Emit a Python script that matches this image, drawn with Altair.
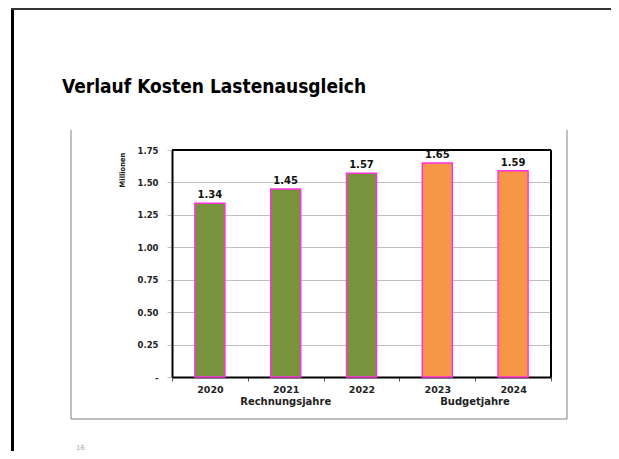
import altair as alt
import pandas as pd

years = ["2020", "2021", "2022", "2023", "2024"]
values = [1.34, 1.45, 1.57, 1.65, 1.59]
kinds = ["Rechnung", "Rechnung", "Rechnung", "Budget", "Budget"]
y_ticks = [0, 0.25, 0.5, 0.75, 1.0, 1.25, 1.5, 1.75]

df = pd.DataFrame({"year": years, "value": values, "kind": kinds})
df["label"] = [f"{v:.2f}" for v in values]

W, H = 379, 227
FONT = "DejaVu Sans"

x_enc = alt.X("year:N", sort=years,
              scale=alt.Scale(paddingInner=0, paddingOuter=0),
              axis=alt.Axis(title=None, labelAngle=0, labelFont=FONT, labelFontWeight="bold",
                            labelFontSize=9.5, labelColor="#222", tickBand="extent",
                            tickSize=4, tickColor="#555", labelPadding=3,
                            domainColor="#000", domainWidth=2, grid=False))
y_enc = alt.Y("value:Q", scale=alt.Scale(domain=[0, 1.75], nice=False),
              axis=alt.Axis(title=None, values=y_ticks, labelOverlap=False,
                            labelExpr="datum.value == 0 ? '-' : format(datum.value, '.2f')",
                            labelFont=FONT, labelFontWeight="bold", labelFontSize=8.5,
                            labelColor="#222", tickSize=5, tickColor="#BFBFBF",
                            labelPadding=9, domainColor="#000", domainWidth=2,
                            grid=True, gridColor="#BFBFBF", gridWidth=1))

bars = alt.Chart(df).mark_bar(size=30, stroke="#FF33DD", strokeWidth=1.5).encode(
    x=x_enc, y=y_enc,
    color=alt.Color("kind:N", scale=alt.Scale(domain=["Rechnung", "Budget"],
                                              range=["#77933C", "#F79646"]), legend=None),
)

labels = alt.Chart(df).mark_text(dy=-8, font=FONT, fontWeight="bold", fontSize=10,
                                 color="#111").encode(
    x=x_enc, y=y_enc, text="label:N")

group_df = pd.DataFrame({"year": ["2021"], "t": ["Rechnungsjahre"]})
group1 = alt.Chart(group_df).mark_text(font=FONT, fontWeight="bold", fontSize=10,
                                       color="#222").encode(
    x=x_enc, y=alt.value(252), text="t:N")
group2 = alt.Chart(pd.DataFrame({"t": ["Budgetjahre"]})).mark_text(
    font=FONT, fontWeight="bold", fontSize=10, color="#222").encode(
    x=alt.value(303), y=alt.value(252), text="t:N")

millionen = alt.Chart(pd.DataFrame({"t": ["Millionen"]})).mark_text(
    font="DejaVu Sans Condensed", fontWeight="bold", fontSize=7.5, angle=270,
    color="#222").encode(x=alt.value(-49), y=alt.value(20), text="t:N")

title = alt.Chart(pd.DataFrame({"t": ["Verlauf Kosten Lastenausgleich"]})).mark_text(
    font="DejaVu Sans Condensed", fontWeight="bold", fontSize=19, align="left",
    baseline="alphabetic", color="#000").encode(
    x=alt.value(-110), y=alt.value(-57), text="t:N")

page_no = alt.Chart(pd.DataFrame({"t": ["16"]})).mark_text(
    font=FONT, fontSize=7, align="left", color="#AAAAAA").encode(
    x=alt.value(-96), y=alt.value(298), text="t:N")

one = pd.DataFrame({"a": [0]})
slide_left = alt.Chart(one).mark_rule(color="#000", strokeWidth=3).encode(
    x=alt.value(-159.5), y=alt.value(-142), y2=alt.value(301))
slide_top = alt.Chart(one).mark_rule(color="#333", strokeWidth=2).encode(
    x=alt.value(-161), x2=alt.value(439), y=alt.value(-141))
box_left = alt.Chart(one).mark_rule(color="#808080", strokeWidth=1).encode(
    x=alt.value(-101), y=alt.value(-20), y2=alt.value(269))
box_right = alt.Chart(one).mark_rule(color="#808080", strokeWidth=1).encode(
    x=alt.value(395), y=alt.value(-20), y2=alt.value(269))
box_bottom = alt.Chart(one).mark_rule(color="#808080", strokeWidth=1).encode(
    x=alt.value(-101), x2=alt.value(395), y=alt.value(269))
frame_top = alt.Chart(one).mark_rule(color="#000", strokeWidth=2).encode(
    x=alt.value(0), x2=alt.value(W), y=alt.value(0))
frame_right = alt.Chart(one).mark_rule(color="#000", strokeWidth=2).encode(
    x=alt.value(W), y=alt.value(0), y2=alt.value(H))

chart = alt.layer(
    bars, frame_top, frame_right, labels, group1, group2, millionen, title, page_no,
    slide_left, slide_top, box_left, box_right, box_bottom
).properties(
    width=W, height=H,
    autosize=alt.AutoSizeParams(type="none"),
    padding={"left": 164, "top": 142, "right": 60, "bottom": 74},
).configure(background="white").configure_view(stroke=None)

chart.save("out.html", embed_options={"renderer": "svg", "actions": False})
